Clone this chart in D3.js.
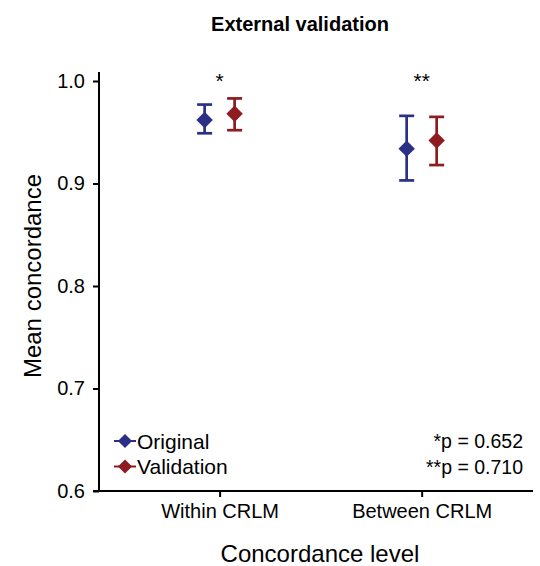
<!DOCTYPE html>
<html>
<head>
<meta charset="utf-8">
<script src="https://cdn.jsdelivr.net/npm/d3@7"></script>
<style>
  body { margin: 0; background: #fff; }
  svg text { font-family: "Liberation Sans", Arial, sans-serif; }
</style>
</head>
<body>
<div id="chart"></div>
<script>
// data
const categories = ['Within CRLM', 'Between CRLM'];
const seriesNames = ['Original', 'Validation'];
const seriesColors = ['#2b2f86', '#8e1b20'];
const means = [[0.962, 0.934], [0.968, 0.942]];
const lower = [[0.949, 0.903], [0.952, 0.918]];
const upper = [[0.977, 0.966], [0.983, 0.965]];
const stars = ['*', '**'];
const pNotes = ['*p = 0.652', '**p = 0.710'];
const yTicks = [0.6, 0.7, 0.8, 0.9, 1.0];

const width = 540, height = 566;
const plotLeft = 99, plotRight = 533, plotTop = 81, plotBottom = 491;

const svg = d3.select('#chart').append('svg')
  .attr('width', width).attr('height', height);

const x = d3.scalePoint().domain(categories).range([plotLeft, plotRight]).padding(0.574).align(0.52);
const y = d3.scaleLinear().domain([0.6, 1.0]).range([plotBottom, plotTop]);
const offset = d3.scalePoint().domain(seriesNames).range([-15, 15]);

// title
svg.append('text').attr('x', 300).attr('y', 31).attr('text-anchor', 'middle')
  .style('font-size', '20px').style('font-weight', 'bold').text('External validation');

// y axis
const yAxis = svg.append('g').attr('transform', `translate(${plotLeft},0)`)
  .call(d3.axisLeft(y).tickValues(yTicks).tickFormat(d3.format('.1f')).tickSize(6).tickPadding(8).tickSizeOuter(0));
yAxis.select('.domain').remove();
yAxis.selectAll('text').style('font-size', '20px').attr('fill', '#000');
yAxis.selectAll('line').attr('stroke', '#000').attr('stroke-width', 2);
svg.append('line').attr('x1', plotLeft).attr('x2', plotLeft).attr('y1', 72).attr('y2', plotBottom)
  .attr('stroke', '#000').attr('stroke-width', 2);

// x axis
const xAxis = svg.append('g').attr('transform', `translate(0,${plotBottom})`)
  .call(d3.axisBottom(x).tickSize(6).tickSizeOuter(0).tickPadding(7));
xAxis.select('.domain').remove();
xAxis.selectAll('text').style('font-size', '20px').attr('fill', '#000');
xAxis.selectAll('line').attr('stroke', '#000').attr('stroke-width', 2);
svg.append('line').attr('x1', 93).attr('x2', plotRight).attr('y1', plotBottom).attr('y2', plotBottom)
  .attr('stroke', '#000').attr('stroke-width', 2);

// axis titles
svg.append('text').attr('transform', `translate(41,276) rotate(-90)`)
  .attr('text-anchor', 'middle').style('font-size', '24px').text('Mean concordance');
svg.append('text').attr('x', 320).attr('y', 562).attr('text-anchor', 'middle')
  .style('font-size', '24px').text('Concordance level');

// error bars + points
const diamond = d3.symbol().type(d3.symbolSquare).size(135);
seriesNames.forEach((s, si) => {
  const g = svg.append('g').attr('stroke', seriesColors[si]).attr('fill', seriesColors[si]);
  categories.forEach((c, ci) => {
    const cx = x(c) + offset(s);
    g.append('line').attr('x1', cx).attr('x2', cx)
      .attr('y1', y(lower[si][ci])).attr('y2', y(upper[si][ci])).attr('stroke-width', 2.7);
    [lower[si][ci], upper[si][ci]].forEach(v => {
      g.append('line').attr('x1', cx - 7.5).attr('x2', cx + 7.5)
        .attr('y1', y(v)).attr('y2', y(v)).attr('stroke-width', 2.7);
    });
    g.append('path').attr('d', diamond)
      .attr('transform', `translate(${cx},${y(means[si][ci])}) rotate(45)`).attr('stroke', 'none');
  });
});

// significance stars
categories.forEach((c, ci) => {
  svg.append('text').attr('x', x(c)).attr('y', 88).attr('text-anchor', 'middle')
    .style('font-size', '21px').text(stars[ci]);
});

// legend
const legendDiamond = d3.symbol().type(d3.symbolSquare).size(100);
seriesNames.forEach((s, si) => {
  const ly = 441 + si * 25.5;
  svg.append('line').attr('x1', 114).attr('x2', 136).attr('y1', ly).attr('y2', ly)
    .attr('stroke', seriesColors[si]).attr('stroke-width', 2);
  svg.append('path').attr('d', legendDiamond)
    .attr('transform', `translate(125,${ly}) rotate(45)`).attr('fill', seriesColors[si]);
  svg.append('text').attr('x', 137).attr('y', ly + 7.5).style('font-size', '21px').text(s);
});

// p-value notes
pNotes.forEach((t, i) => {
  svg.append('text').attr('x', 523).attr('y', 448 + i * 26).attr('text-anchor', 'end')
    .style('font-size', '19.5px').text(t);
});
</script>
</body>
</html>
